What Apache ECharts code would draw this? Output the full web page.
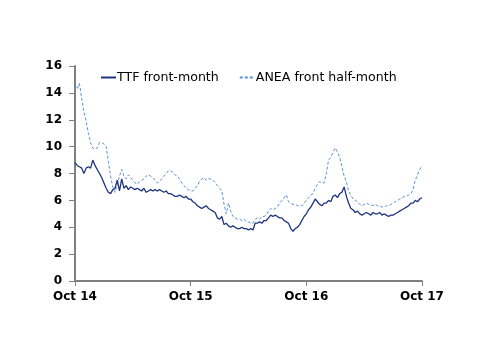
<!DOCTYPE html>
<html>
<head>
<meta charset="utf-8">
<script src="https://cdn.jsdelivr.net/npm/echarts@6/dist/echarts.min.js"></script>
<style>
  html, body { margin: 0; padding: 0; background: #fff; }
  #chart { width: 500px; height: 354px; }
</style>
</head>
<body>
<div id="chart"></div>
<script>
// x positions are weeks since Oct 2014 (0..156)
const xLabels = ['Oct 14', 'Oct 15', 'Oct 16', 'Oct 17'];
const yTicks = [0, 2, 4, 6, 8, 10, 12, 14, 16];
const seriesNames = ['TTF front-month', 'ANEA front half-month'];

const ttf = [
  8.8, 8.6, 8.5, 8.4, 8.0, 8.4, 8.5, 8.4, 9.0, 8.6,
  8.3, 8.0, 7.7, 7.3, 6.9, 6.6, 6.5, 6.8, 6.9, 7.5,
  6.7, 7.6, 6.9, 7.1, 6.8, 7.0, 6.9, 6.8, 6.9, 6.8,
  6.7, 6.9, 6.6, 6.7, 6.8, 6.7, 6.8, 6.7, 6.8, 6.7,
  6.6, 6.7, 6.5, 6.5, 6.4, 6.3, 6.3, 6.4, 6.3, 6.2,
  6.3, 6.1, 6.1, 5.9, 5.8, 5.6, 5.5, 5.4, 5.5, 5.6,
  5.4, 5.3, 5.2, 5.1, 4.7, 4.6, 4.8, 4.2, 4.3, 4.1,
  4.0, 4.1, 4.0, 3.9, 3.9, 4.0, 3.9, 3.9, 3.8, 3.9,
  3.8, 4.3, 4.3, 4.4, 4.3, 4.5, 4.5, 4.7, 4.9, 4.8,
  4.9, 4.8, 4.7, 4.7, 4.5, 4.4, 4.3, 3.9, 3.7, 3.9,
  4.0, 4.2, 4.5, 4.8, 5.0, 5.3, 5.5, 5.8, 6.1, 5.9,
  5.7, 5.6, 5.8, 5.8, 6.0, 5.9, 6.3, 6.4, 6.2, 6.5,
  6.6, 7.0, 6.3, 5.8, 5.4, 5.3, 5.1, 5.2, 5.0, 4.9,
  5.0, 5.1, 5.0, 4.9, 5.1, 5.0, 5.0, 5.1, 4.9, 5.0,
  4.9, 4.8, 4.9, 4.9, 5.0, 5.1, 5.2, 5.3, 5.4, 5.5,
  5.6, 5.8, 5.8, 6.0, 5.9, 6.1, 6.2
];

const anea = [
  14.6, 14.3, 14.7, 13.6, 12.6, 11.9, 11.0, 10.3, 9.9, 9.8,
  9.9, 10.3, 10.3, 10.2, 10.0, 8.9, 7.8, 7.0, 6.6, 7.2,
  7.8, 8.3, 7.8, 7.6, 7.9, 7.7, 7.5, 7.3, 7.2, 7.4,
  7.5, 7.6, 7.8, 7.9, 7.8, 7.7, 7.5, 7.3, 7.4, 7.6,
  7.8, 8.0, 8.2, 8.2, 8.1, 7.9, 7.8, 7.6, 7.3, 7.1,
  6.9, 6.8, 6.7, 6.7, 6.9, 7.1, 7.4, 7.6, 7.7, 7.5,
  7.6, 7.6, 7.5, 7.3, 7.1, 6.9, 6.7, 5.7, 5.0, 5.8,
  5.2, 4.8, 4.7, 4.6, 4.6, 4.5, 4.6, 4.4, 4.4, 4.3,
  4.3, 4.6, 4.7, 4.6, 4.8, 4.8, 4.9, 5.2, 5.4, 5.3,
  5.4, 5.5, 5.8, 6.0, 6.2, 6.4, 5.9, 5.8, 5.7, 5.7,
  5.6, 5.6, 5.6, 5.8, 6.0, 6.2, 6.4, 6.5, 6.9, 7.2,
  7.4, 7.3, 7.3, 8.0, 9.0, 9.2, 9.6, 9.9, 9.6, 9.2,
  8.5, 7.8, 7.4, 6.7, 6.4, 6.1, 6.0, 5.9, 5.7, 5.6,
  5.7, 5.8, 5.7, 5.7, 5.6, 5.7, 5.6, 5.6, 5.5, 5.5,
  5.6, 5.6, 5.7, 5.8, 5.9, 6.0, 6.1, 6.2, 6.3, 6.3,
  6.4, 6.5, 6.8, 7.5, 7.9, 8.3, 8.6
];

function initChart() {
    const chart = echarts.init(document.getElementById('chart'));
    const font = 'DejaVu Sans';
    const axisGrey = '#808080';

    const option = {
        animation: false,
        grid: { left: 75, right: 78, top: 66, bottom: 73, containLabel: false },
        legend: {
            left: 95,
            top: 66,
            itemWidth: 15,
            itemHeight: 10,
            itemGap: 20,
            itemStyle: { opacity: 0 },
            textStyle: { fontFamily: font, fontSize: 12.6, color: '#000', padding: [0, 0, 0, -4] },
            data: seriesNames
        },
        xAxis: {
            type: 'value',
            min: 0,
            max: 156,
            interval: 52,
            axisLine: { show: true, lineStyle: { color: axisGrey, width: 2 } },
            axisTick: { show: true, length: 5, lineStyle: { color: axisGrey, width: 1 } },
            axisLabel: {
                fontFamily: font, fontSize: 12, fontWeight: 'bold', color: '#000', margin: 10,
                formatter: v => xLabels[Math.round(v / 52)] || ''
            },
            splitLine: { show: false }
        },
        yAxis: {
            type: 'value',
            min: yTicks[0],
            max: yTicks[yTicks.length - 1],
            interval: 2,
            axisLine: { show: true, lineStyle: { color: axisGrey, width: 2 } },
            axisTick: { show: true, length: 6, lineStyle: { color: axisGrey, width: 1 } },
            axisLabel: { fontFamily: font, fontSize: 12, fontWeight: 'bold', color: '#000', margin: 13 },
            splitLine: { show: false }
        },
        series: [
            {
                name: seriesNames[0],
                type: 'line',
                symbol: 'none',
                data: ttf.map((v, i) => [i, v]),
                lineStyle: { color: '#1f3480', width: 1.3 },
                itemStyle: { color: '#1f3480' },
                z: 3
            },
            {
                name: seriesNames[1],
                type: 'line',
                symbol: 'none',
                data: anea.map((v, i) => [i, v]),
                lineStyle: { color: '#5b8fd6', width: 1, type: [3, 2] },
                itemStyle: { color: '#5b8fd6' },
                z: 2
            }
        ]
    };

    chart.setOption(option);
}

initChart();
</script>
</body>
</html>
